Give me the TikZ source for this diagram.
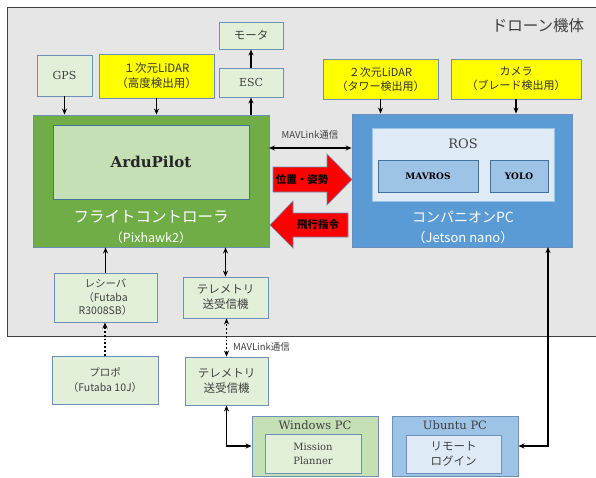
\documentclass[tikz,border=0pt]{standalone}
\usepackage{fontspec}
\setmainfont{DejaVu Serif}
\newfontfamily\cjk{Noto Sans CJK JP}
\usetikzlibrary{arrows.meta}
\definecolor{bggray}{HTML}{E7E6E6}
\definecolor{bordc}{HTML}{6D8FB8}
\definecolor{darkbord}{HTML}{41719C}
\definecolor{lgreen}{HTML}{E2F0D9}
\definecolor{mgreen}{HTML}{C5E0B4}
\definecolor{dgreen}{HTML}{70AD47}
\definecolor{dblue}{HTML}{5B9BD5}
\definecolor{mblue}{HTML}{9DC3E6}
\definecolor{lblue}{HTML}{DEEBF7}
\definecolor{txtc}{HTML}{404040}
\definecolor{ylw}{HTML}{FFFF00}
\definecolor{redarr}{HTML}{FF0000}
\tikzset{
  box/.style={draw=bordc, line width=0.9pt, align=center, inner sep=1pt, text=txtc,
              font=\cjk\fontsize{11.5}{15}\selectfont},
  lgbox/.style={box, fill=lgreen},
  ylbox/.style={box, fill=ylw, text=black!80},
  inbox/.style={draw=darkbord, line width=0.9pt, align=center, inner sep=1pt},
  arr/.style={-{Stealth[length=6pt,width=5pt]}, line width=1.4pt},
  darr/.style={{Stealth[length=6pt,width=5pt]}-{Stealth[length=6pt,width=5pt]}, line width=1.4pt},
  dotarr/.style={dotted, line width=1.8pt},
  redshape/.style={fill=redarr, draw=bordc, line width=0.6pt},
  lbl/.style={inner sep=0pt, align=center}
}
\begin{document}
\begin{tikzpicture}[x=1pt,y=-1pt]
\clip (0,0) rectangle (596,477);
\fill[white] (0,0) rectangle (596,477);
% drone body region
\draw[fill=bggray, draw=black!75, line width=0.9pt] (7,7) rectangle (600,336);
\node[lbl, font=\cjk\fontsize{15.5}{18}\selectfont, text=txtc] (drone) at (538,26) {ドローン機体};

% top sensors
\node[lgbox, minimum width=55pt, minimum height=41pt, font=\fontsize{11}{13}\selectfont] (gps) at (64.5,75.5) {GPS};
\node[ylbox, minimum width=115pt, minimum height=44pt] (lidar1) at (156.5,76) {１次元LiDAR\\（高度検出用）};
\node[lgbox, minimum width=64pt, minimum height=27pt] (motor) at (251,35.5) {モータ};
\node[lgbox, minimum width=64pt, minimum height=29pt, font=\fontsize{11}{13}\selectfont] (esc) at (251,82.5) {ESC};
\node[ylbox, minimum width=115pt, minimum height=40pt, font=\cjk\fontsize{11}{14}\selectfont] (lidar2) at (380.5,79) {２次元LiDAR\\（タワー検出用）};
\node[ylbox, minimum width=130pt, minimum height=40pt, font=\cjk\fontsize{11}{14}\selectfont] (camera) at (516,79) {カメラ\\（ブレード検出用）};

% flight controller
\node[box, fill=dgreen, minimum width=236pt, minimum height=132pt] (fc) at (151,181) {};
\node[inbox, fill=mgreen, minimum width=196pt, minimum height=74pt, font=\bfseries\fontsize{15}{18}\selectfont, text=black!85] (ardu) at (151,162) {ArduPilot};
\node[lbl, text=white, font=\cjk\fontsize{15.5}{18}\selectfont] (fcl1) at (151,217) {フライトコントローラ};
\node[lbl, text=white, font=\cjk\fontsize{12.5}{15}\selectfont] (fcl2) at (151,238) {（Pixhawk2）};

% companion PC
\node[box, fill=dblue, minimum width=220pt, minimum height=133pt] (cpc) at (462,180.5) {};
\node[inbox, draw=mblue, fill=lblue, minimum width=182pt, minimum height=73pt] (ros) at (463,164.5) {};
\node[lbl, text=txtc, font=\fontsize{13}{15}\selectfont] (rosl) at (463,144) {ROS};
\node[inbox, fill=mblue, minimum width=100pt, minimum height=32pt, font=\bfseries\fontsize{9}{11}\selectfont] (mavros) at (428,176) {MAVROS};
\node[inbox, fill=mblue, minimum width=58pt, minimum height=32pt, font=\bfseries\fontsize{9}{11}\selectfont] (yolo) at (519,176) {YOLO};
\node[lbl, text=white, font=\cjk\fontsize{14}{17}\selectfont] (cpcl1) at (463,217) {コンパニオンPC};
\node[lbl, text=white, font=\cjk\fontsize{13}{15}\selectfont] (cpcl2) at (463,238) {（Jetson nano）};

% red arrows
\draw[redshape] (273,167) -- (327,167) -- (327,154) -- (352,179.5) -- (327,205) -- (327,192) -- (273,192) -- cycle;
\node[lbl, font=\cjk\bfseries\fontsize{10.5}{12}\selectfont] (posatt) at (302,180) {位置・姿勢};
\draw[redshape] (270,225) -- (293,201) -- (293,213) -- (348,213) -- (348,237) -- (293,237) -- (293,248) -- cycle;
\node[lbl, font=\cjk\bfseries\fontsize{10.5}{12}\selectfont] (flycmd) at (318,225) {飛行指令};

% MAVLink link between FC and companion
\coordinate (mlL) at (269,148);
\draw[darr] (mlL) -- (mlL -| cpc.west);
\node[lbl, text=txtc, font=\cjk\fontsize{9.5}{11}\selectfont] (mavl1) at (310,135) {MAVLink通信};

% lower components inside drone
\node[lgbox, minimum width=103pt, minimum height=49pt, font=\cjk\fontsize{10.5}{13.5}\selectfont] (recv) at (105.5,297.5) {レシーバ\\（Futaba\\R3008SB）};
\node[lgbox, minimum width=85pt, minimum height=41pt] (tele1) at (225.5,297.5) {テレメトリ\\送受信機};

% ground side
\node[lgbox, minimum width=106pt, minimum height=48pt, font=\cjk\fontsize{10.5}{15}\selectfont] (propo) at (105,380) {プロポ\\（Futaba 10J）};
\node[lgbox, minimum width=83pt, minimum height=48pt] (tele2) at (226.5,381) {テレメトリ\\送受信機};
\node[lbl, text=txtc, font=\cjk\fontsize{9.5}{11}\selectfont, anchor=west] (mavl2) at (233,347) {MAVLink通信};

\node[box, fill=mgreen, minimum width=126pt, minimum height=60pt] (win) at (315,446) {};
\node[lbl, text=txtc, font=\fontsize{11.5}{13}\selectfont] (winl) at (315,425) {Windows PC};
\node[box, fill=lgreen, minimum width=96pt, minimum height=39pt, font=\fontsize{10}{14}\selectfont] (mp) at (313,453.5) {Mission\\Planner};

\node[box, fill=mblue, minimum width=126pt, minimum height=60pt] (ubu) at (455,446) {};
\node[lbl, text=txtc, font=\fontsize{11.5}{13}\selectfont] (ubul) at (455,425) {Ubuntu PC};
\node[box, fill=lblue, minimum width=95pt, minimum height=38pt] (rl) at (453.5,454) {リモート\\ログイン};

% connectors
\draw[arr] (gps.south) -- (gps.south |- fc.north);
\draw[arr] (lidar1.south) -- (lidar1.south |- fc.north);
\draw[arr] (esc.south |- fc.north) -- (esc.south);
\draw[arr] (esc.north) -- (motor.south);
\draw[arr] (lidar2.south) -- (lidar2.south |- cpc.north);
\draw[arr] (camera.south) -- (camera.south |- cpc.north);
\draw[arr] (recv.north) -- (recv.north |- fc.south);
\draw[darr] (tele1.north) -- (tele1.north |- fc.south);
\draw[dotarr, -{Stealth[length=6pt,width=5pt]}] (propo.north) -- (propo.north |- recv.south);
\draw[dotarr, {Stealth[length=6pt,width=5pt]}-{Stealth[length=6pt,width=5pt]}] (tele2.north) -- (tele2.north |- tele1.south);
\draw[darr] (tele2.south) |- (win.west);
\coordinate (cpcb) at (548,247);
\draw[darr] (cpcb) |- (ubu.east);
\end{tikzpicture}
\end{document}
